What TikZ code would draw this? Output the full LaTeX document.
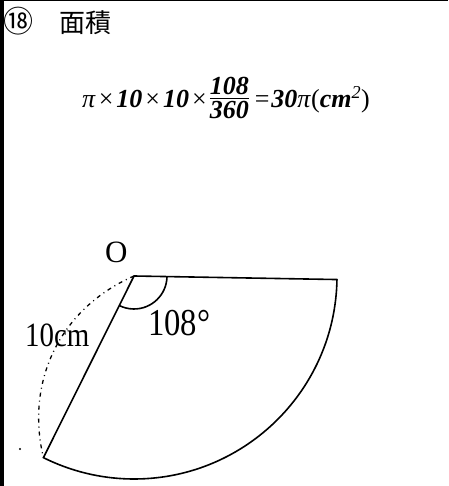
\documentclass[tikz,border=0pt]{standalone}
\usepackage{fontspec}
\usetikzlibrary{calc}
\setmainfont{Liberation Serif}
\newfontfamily\cjk{Noto Sans CJK JP}
\newcommand\myfr[2]{\vbox{\halign{\hfil##\hfil\cr #1\cr\noalign{\kern3pt\hrule height 1.2pt\kern3pt}#2\cr}}}
\newcommand\bi[1]{\textbf{\textit{#1}}}
\newcommand\gp{\hspace{3pt}}
\begin{document}
\begin{tikzpicture}[x=1pt,y=1pt,
  sector/.style={line width=1.6pt, line join=round},
  guide/.style={line width=1.3pt, dash pattern=on 4pt off 4pt on 1pt off 4pt},
  lbl/.style={inner sep=0pt, anchor=base west},
  frame/.style={fill=black}]
\useasboundingbox (0,0) rectangle (448,486);
\fill[frame] (0,0) rectangle (4,486);
\fill[frame] (0,485) rectangle (448,486);
% header
\node[inner sep=0pt, font=\cjk\fontsize{30}{32}\selectfont] (num) at (18,465) {⑱};
\node[inner sep=0pt, font=\cjk\fontsize{26}{28}\selectfont] (title) at (85,463) {面積};
% formula
\node[lbl, font=\fontsize{26}{28}\selectfont] (formula) at (82,378)
  {\textit{π}\gp×\gp\bi{10}\gp×\gp\bi{10}\gp×\gp\raisebox{-11pt}{\myfr{\bi{108}}{\bi{360}}}\hspace{6pt}=\hspace{2pt}\bi{30}\textit{π}(\bi{cm}\textsuperscript{\textit{2}})};
% sector
\coordinate (O) at (134,210);
\coordinate (A) at ($(O)+(-1:203)$);
\coordinate (B) at ($(O)+(-116.5:203)$);
\draw[sector] (O) -- (A) arc[start angle=-1, end angle=-116.5, radius=203] -- cycle;
\draw[sector] ($(O)+(-1:33)$) arc[start angle=-1, end angle=-116.5, radius=33];
\draw[guide] (O) to[bend right=40] (B);
\fill (20,37) circle (1.1);
% labels
\node[lbl, font=\fontsize{31}{34}\selectfont] (lO) at (105,223) {O};
\node[lbl, font=\fontsize{34}{36}\selectfont, xscale=0.85] (lr) at (25,139) {10cm};
\node[lbl, font=\fontsize{38}{40}\selectfont, xscale=0.86] (la) at (148,150) {108°};
\end{tikzpicture}
\end{document}
